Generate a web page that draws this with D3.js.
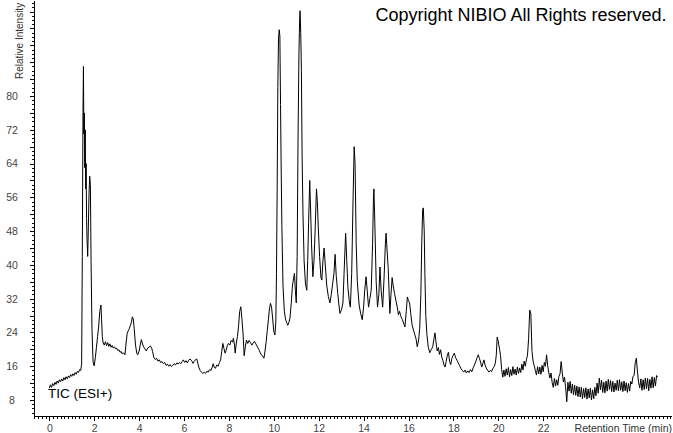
<!DOCTYPE html>
<html lang="en">
<head>
<meta charset="UTF-8">
<title>TIC (ESI+)</title>
<style>
  body { margin: 0; background: #fff; overflow: hidden; }
  svg text { font-family: "Liberation Sans", Arial, sans-serif; }
</style>
</head>
<body>
<script src="https://d3js.org/d3.v7.min.js"></script>
<script>
    const w = 673, h = 433;

    // [retention time (min), relative intensity]
    const ticFront = [
        [0, 10.8], [0.05, 11.6], [0.1, 11.0], [0.15, 11.9], [0.2, 11.4], [0.25, 12.2], [0.3, 11.7], [0.35, 12.5],
        [0.4, 12.0], [0.45, 12.8], [0.5, 12.3], [0.55, 13.0], [0.6, 12.5], [0.65, 13.3], [0.7, 12.8], [0.75, 13.5],
        [0.8, 13.0], [0.85, 13.7], [0.9, 13.3], [0.95, 14.0], [1.0, 13.6], [1.05, 14.2], [1.1, 13.8], [1.15, 14.5],
        [1.2, 14.1], [1.25, 14.8], [1.3, 14.5], [1.35, 15.2], [1.4, 15.0], [1.44, 16.5], [1.47, 42], [1.5, 76],
        [1.52, 87], [1.54, 71], [1.56, 76], [1.58, 63], [1.6, 72], [1.62, 58], [1.64, 64], [1.66, 51], [1.68, 46],
        [1.71, 42], [1.74, 49], [1.77, 57], [1.8, 61], [1.83, 59], [1.86, 41], [1.9, 25], [1.95, 17], [2.0, 16.1]
    ];

    const ticMain = [
        [2.05, 18], [2.1, 20.5], [2.15, 23], [2.2, 25.5], [2.25, 29], [2.3, 30.5], [2.33, 27], [2.36, 23], [2.4, 21.5],
        [2.45, 21], [2.5, 21.8], [2.55, 20.9], [2.6, 21.6], [2.65, 20.7], [2.7, 21.3], [2.75, 20.5], [2.8, 20.9],
        [2.85, 20.3], [2.9, 20.6], [2.95, 20.1], [3.0, 20.3], [3.05, 19.7], [3.1, 19.9], [3.15, 19.3], [3.2, 19.5],
        [3.25, 18.9], [3.3, 19.2], [3.37, 18.7], [3.42, 21.5], [3.47, 23.8], [3.52, 24.4], [3.57, 25.0], [3.62, 25.8],
        [3.66, 26.5], [3.7, 27.7], [3.74, 27.2], [3.78, 25], [3.84, 21], [3.9, 19], [3.94, 18.7], [4.0, 19.6],
        [4.05, 21], [4.1, 22.3], [4.14, 21.5], [4.2, 20.6], [4.26, 20.1], [4.32, 19.6], [4.38, 20.3], [4.44, 20.5],
        [4.5, 20.8], [4.56, 20.3], [4.6, 19.5], [4.66, 18.0], [4.72, 17.6], [4.78, 17.9], [4.84, 17.2], [4.9, 17.5],
        [4.96, 16.9], [5.02, 17.1], [5.08, 16.6], [5.14, 16.9], [5.2, 16.2], [5.26, 16.5], [5.32, 16.0], [5.38, 16.4],
        [5.44, 15.9], [5.5, 16.2], [5.56, 16.6], [5.62, 16.3], [5.68, 16.8], [5.74, 16.5], [5.8, 16.9], [5.86, 16.6],
        [5.92, 17.1], [5.97, 17.5], [6.03, 16.9], [6.09, 17.3], [6.15, 16.8], [6.21, 17.4], [6.27, 17.7], [6.34, 17.3],
        [6.4, 16.7], [6.46, 17.2], [6.52, 17.6], [6.57, 17.7], [6.62, 16.6], [6.67, 15.6], [6.72, 15.0], [6.78, 14.6],
        [6.84, 14.3], [6.9, 14.6], [6.96, 14.3], [7.02, 14.8], [7.08, 14.6], [7.14, 15.2], [7.2, 15.0], [7.26, 15.8],
        [7.3, 16.6], [7.35, 15.7], [7.4, 15.5], [7.46, 16.3], [7.52, 16.0], [7.58, 16.9], [7.63, 17.5], [7.68, 19.5],
        [7.73, 21.4], [7.78, 20.2], [7.83, 19.1], [7.88, 19.8], [7.93, 20.9], [7.98, 21.4], [8.04, 21.0], [8.1, 22.1],
        [8.16, 21.7], [8.2, 22.6], [8.25, 21.0], [8.28, 19.1], [8.33, 21.5], [8.38, 23.0], [8.43, 25.5], [8.48, 29.0],
        [8.53, 30.1], [8.58, 27.2], [8.63, 23.8], [8.68, 18.5], [8.73, 20.5], [8.78, 22.2], [8.84, 21.4], [8.9, 22.1],
        [8.96, 21.6], [9.02, 21.0], [9.08, 21.5], [9.14, 21.9], [9.2, 21.3], [9.27, 20.6], [9.35, 19.8], [9.42, 18.9],
        [9.5, 18.4], [9.56, 17.9], [9.61, 19.6], [9.66, 21.8], [9.71, 24.5], [9.76, 27.0], [9.8, 29.3], [9.85, 30.9],
        [9.9, 30.0], [9.95, 27.2], [10.0, 24.2], [10.05, 23.4], [10.09, 26.5], [10.12, 38], [10.15, 58], [10.18, 82],
        [10.21, 93.7], [10.24, 95.7], [10.27, 94.2], [10.3, 78], [10.33, 62], [10.36, 49], [10.41, 35], [10.47, 29],
        [10.52, 27.2], [10.57, 26.4], [10.62, 25.7], [10.67, 26.3], [10.72, 27.4], [10.78, 31], [10.83, 35],
        [10.87, 36.4], [10.92, 38], [10.96, 34], [11.0, 31], [11.04, 42], [11.08, 70], [11.12, 90], [11.15, 98],
        [11.17, 100.2], [11.2, 95], [11.23, 86], [11.26, 66], [11.3, 52], [11.35, 41], [11.41, 35.5], [11.47, 34],
        [11.51, 41], [11.55, 50], [11.6, 60], [11.64, 53], [11.68, 45], [11.74, 37.2], [11.79, 41], [11.84, 48],
        [11.9, 58], [11.94, 55], [11.98, 49], [12.04, 42], [12.1, 37], [12.14, 36.4], [12.19, 41], [12.24, 44],
        [12.3, 39.5], [12.36, 35], [12.43, 32.5], [12.5, 31], [12.56, 33], [12.62, 35.5], [12.68, 38], [12.73, 42.5],
        [12.78, 37.5], [12.85, 33.2], [12.9, 30.5], [12.95, 28.5], [13.02, 29.5], [13.08, 31], [13.13, 38],
        [13.2, 47.5], [13.25, 41], [13.3, 34.8], [13.36, 31.5], [13.41, 30], [13.47, 38], [13.53, 55.4], [13.58, 68],
        [13.62, 64], [13.67, 45], [13.72, 36], [13.8, 30.5], [13.87, 28.5], [13.94, 27], [14.0, 30], [14.05, 34],
        [14.11, 37.2], [14.16, 34], [14.22, 30], [14.28, 32], [14.34, 34], [14.4, 45], [14.44, 56], [14.46, 58],
        [14.5, 50], [14.56, 36], [14.62, 30], [14.68, 33], [14.73, 39.5], [14.78, 34], [14.85, 30], [14.92, 38],
        [14.97, 45], [15.0, 47.5], [15.04, 44], [15.1, 38.8], [15.17, 28.5], [15.22, 33], [15.27, 37], [15.32, 35],
        [15.38, 33.2], [15.44, 31.5], [15.5, 30], [15.55, 28.2], [15.6, 29], [15.66, 27.8], [15.73, 27], [15.78, 26.2],
        [15.84, 25.3], [15.9, 29], [15.95, 32.4], [16.0, 31.5], [16.05, 31], [16.1, 28.5], [16.16, 25.8],
        [16.22, 24.6], [16.28, 23.5], [16.34, 22.4], [16.39, 20.6], [16.45, 22.2], [16.5, 25], [16.55, 33],
        [16.59, 45], [16.63, 53], [16.66, 53.5], [16.7, 48], [16.73, 38], [16.77, 28], [16.82, 23.5], [16.88, 20.5],
        [16.95, 19.2], [17.0, 19.8], [17.04, 20.2]
    ];

    const ticBack = [
        [17.08, 20.6], [17.13, 22.4], [17.18, 23.9], [17.23, 21.5], [17.28, 19.6], [17.33, 20.4], [17.38, 18.8],
        [17.43, 19.9], [17.48, 18.2], [17.53, 17.4], [17.58, 16.3], [17.63, 15.8], [17.68, 17.2], [17.73, 18.6],
        [17.78, 19.3], [17.83, 17.1], [17.88, 16.4], [17.93, 17.8], [17.98, 18.5], [18.04, 19.1], [18.1, 18.0],
        [18.16, 17.4], [18.22, 16.8], [18.28, 16.1], [18.34, 15.4], [18.4, 15.0], [18.46, 14.6], [18.52, 15.1],
        [18.58, 14.4], [18.64, 14.9], [18.7, 14.5], [18.76, 15.2], [18.82, 14.7], [18.88, 15.6], [18.94, 16.3],
        [19.0, 17.2], [19.06, 18.1], [19.11, 18.7], [19.16, 17.8], [19.21, 17.0], [19.26, 15.8], [19.31, 16.6],
        [19.36, 17.5], [19.41, 16.3], [19.46, 15.6], [19.52, 15.1], [19.58, 14.6], [19.64, 15.0], [19.7, 14.7],
        [19.76, 15.5], [19.82, 15.9], [19.87, 16.8], [19.91, 18.6], [19.95, 22.9], [19.99, 22.1], [20.03, 20.8],
        [20.06, 19.9]
    ];

    // tail is sampled at a fixed step from tailStart
    const tailStart = 20.10, tailStep = 0.05;
    const ticTail = [
        18.5, 15.2, 13.4, 15.1, 13.6, 15.4, 13.9, 15.7, 13.5, 15.2, 13.8, 15.9, 14.1, 15.3, 13.9, 15.8, 14.3, 15.6,
        14.5, 16.5, 15.1, 17.2, 16.0, 17.5, 18.6, 22.5, 29.3, 28.4, 19.5, 17.2, 16.1, 15.0, 13.9, 15.9, 14.2, 15.8,
        14.1, 16.2, 14.7, 16.9, 16.0, 18.7, 16.1, 14.4, 13.2, 14.4, 12.1, 11.0, 13.1, 11.3, 12.8, 11.5, 13.6, 14.2,
        17.1, 14.4,
        12.3, 13.4, 10.9, 7.6, 12.2, 10.1, 12.4, 9.6, 11.8, 9.2, 11.5, 9.1, 11.3, 8.8, 11.1, 8.7, 11.0, 8.3,
        10.7, 8.6, 10.9, 8.2, 10.6, 8.5, 10.8, 8.0, 10.4, 8.3, 11.0, 9.0, 12.0, 9.6, 13.2, 10.4, 12.7, 9.8,
        12.2, 9.7, 12.5, 10.1, 12.9, 10.5, 12.6, 10.0, 12.4, 9.9, 12.0, 10.3, 12.7, 10.2, 12.8, 10.3, 12.3, 10.0,
        12.5, 10.2, 12.1, 9.8, 11.9, 10.1, 12.4, 11.8, 13.6, 13.8, 16.8, 17.9, 14.6, 12.1, 10.9, 13.0, 10.3, 12.8,
        10.5, 13.2, 10.7, 13.1, 10.2, 12.9, 10.8, 13.5, 10.9, 13.3, 11.3, 13.8, 13.5
    ];

    const xTickLabels = [0, 2, 4, 6, 8, 10, 12, 14, 16, 18, 20, 22];
    const yTickLabels = [8, 16, 24, 32, 40, 48, 56, 64, 72, 80];

    const tic = ticFront.concat(ticMain, ticBack,
        ticTail.map((v, i) => [tailStart + i * tailStep, v]));

    const x = d3.scaleLinear().domain([0, 22]).range([49.3, 543.2]);
    const y = d3.scaleLinear().domain([8, 80]).range([400, 96]);

    const axisX = 33.5, axisY = 415.5;
    const xa = x.copy().domain([x.invert(axisX), x.invert(671)]).range([axisX, 671]);
    const ya = y.copy().domain([y.invert(axisY), y.invert(0)]).range([axisY, 0]);

    let svg = d3.select("body").append("svg")
        .attr("width", w)
        .attr("height", h);

    // x axis: minor ticks every 10 s, labels every 2 min
    let xMinor = d3.range(Math.ceil(xa.domain()[0] * 6), Math.floor(xa.domain()[1] * 6) + 1).map(i => i / 6);
    svg.append("g")
        .attr("transform", "translate(0," + axisY + ")")
        .call(d3.axisBottom(xa).tickValues(xMinor).tickSize(3).tickSizeOuter(0).tickFormat(""));
    svg.append("g")
        .attr("transform", "translate(0," + axisY + ")")
        .call(d3.axisBottom(xa).tickValues(xTickLabels).tickSize(5).tickSizeOuter(0))
        .call(g => g.select(".domain").remove())
        .selectAll("text")
        .attr("y", 16)
        .attr("dy", 0);

    // y axis: minor ticks every unit, longer every 4, labels every 8
    let yMinor = d3.range(Math.ceil(ya.domain()[0]), Math.floor(ya.domain()[1]) + 1);
    svg.append("g")
        .attr("transform", "translate(" + axisX + ",0)")
        .call(d3.axisLeft(ya).tickValues(yMinor).tickSize(2).tickSizeOuter(0).tickFormat(""));
    svg.append("g")
        .attr("transform", "translate(" + axisX + ",0)")
        .call(d3.axisLeft(ya).tickValues(yMinor.filter(v => v % 4 === 0)).tickSize(4).tickSizeOuter(0).tickFormat(""))
        .call(g => g.select(".domain").remove());
    svg.append("g")
        .attr("transform", "translate(" + axisX + ",0)")
        .call(d3.axisLeft(ya).tickValues(yTickLabels).tickSize(0).tickSizeOuter(0))
        .call(g => g.select(".domain").remove())
        .selectAll("text")
        .attr("x", 12 - axisX)
        .attr("text-anchor", "middle");

    svg.selectAll(".tick text")
        .attr("fill", "#444")
        .style("font-size", "10.5px")
        .style("font-family", '"Liberation Sans", Arial, sans-serif');
    svg.selectAll(".domain, .tick line")
        .attr("stroke", "#000")
        .attr("shape-rendering", "crispEdges");

    // trace
    let line = d3.line()
        .x(d => x(d[0]))
        .y(d => y(d[1]));
    svg.append("path")
        .datum(tic)
        .attr("d", line)
        .attr("fill", "none")
        .attr("stroke", "#000")
        .attr("stroke-width", 1)
        .attr("stroke-linejoin", "miter");

    // texts
    svg.append("text")
        .attr("transform", "translate(22.5,79) rotate(-90)")
        .attr("fill", "#333")
        .style("font-size", "10px")
        .text("Relative Intensity");

    svg.append("text")
        .attr("x", w - 1)
        .attr("y", 431.5)
        .attr("text-anchor", "end")
        .attr("fill", "#333")
        .style("font-size", "10.5px")
        .text("Retention Time (min)");

    svg.append("text")
        .attr("x", 375.5)
        .attr("y", 20.5)
        .attr("fill", "#000")
        .style("font-size", "18px")
        .text("Copyright NIBIO All Rights reserved.");

    svg.append("text")
        .attr("x", 48)
        .attr("y", 397.5)
        .attr("fill", "#000")
        .style("font-size", "13.5px")
        .text("TIC (ESI+)");
</script>
</body>
</html>
